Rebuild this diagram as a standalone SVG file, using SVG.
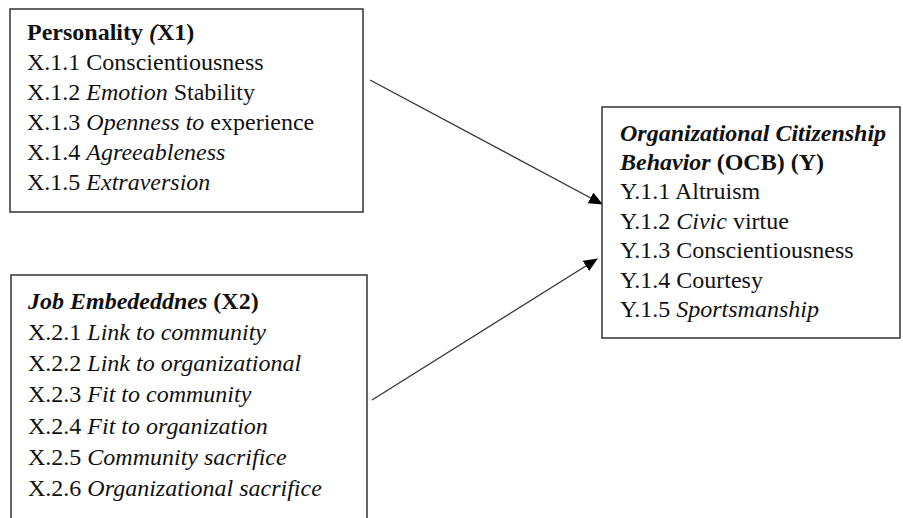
<svg xmlns="http://www.w3.org/2000/svg" width="903" height="518" viewBox="0 0 903 518">
<defs>
<style>
.box{fill:#fff;stroke:#333;stroke-width:1.5}
.t{font-family:"Liberation Serif","Times New Roman",serif;font-size:24px;fill:#111}
.b{font-weight:bold}
.i{font-style:italic}
.conn{stroke:#333;stroke-width:1.3;fill:none}
</style>
<marker id="ah" markerUnits="userSpaceOnUse" markerWidth="14" markerHeight="12" refX="13" refY="6" orient="auto">
<path d="M0,0 L14,6 L0,12 Z" fill="#000"/>
</marker>
</defs>
<rect width="903" height="518" fill="#fff"/>
<g id="connectors">
<line class="conn" x1="370" y1="80" x2="602" y2="204" marker-end="url(#ah)"/>
<line class="conn" x1="372" y1="400" x2="597" y2="259" marker-end="url(#ah)"/>
</g>
<g id="personality">
<rect class="box" x="10" y="9" width="353" height="203"/>
<text class="t" x="27" y="40"><tspan class="b">Personality </tspan><tspan class="b i">(</tspan><tspan class="b">X1)</tspan></text>
<text class="t" x="27" y="70">X.1.1 Conscientiousness</text>
<text class="t" x="27" y="100">X.1.2 <tspan class="i">Emotion</tspan> Stability</text>
<text class="t" x="27" y="130">X.1.3 <tspan class="i">Openness to</tspan> experience</text>
<text class="t" x="27" y="160">X.1.4 <tspan class="i">Agreeableness</tspan></text>
<text class="t" x="27" y="190">X.1.5 <tspan class="i">Extraversion</tspan></text>
</g>
<g id="job-embeddedness">
<rect class="box" x="11" y="275" width="356" height="260"/>
<text class="t" x="28" y="309"><tspan class="b i">Job Embededdnes</tspan><tspan class="b"> (X2)</tspan></text>
<text class="t" x="28" y="340">X.2.1 <tspan class="i">Link to community</tspan></text>
<text class="t" x="28" y="371">X.2.2 <tspan class="i">Link to organizational</tspan></text>
<text class="t" x="28" y="402">X.2.3 <tspan class="i">Fit to community</tspan></text>
<text class="t" x="28" y="434">X.2.4 <tspan class="i">Fit to organization</tspan></text>
<text class="t" x="28" y="465">X.2.5 <tspan class="i">Community sacrifice</tspan></text>
<text class="t" x="28" y="496">X.2.6 <tspan class="i">Organizational sacrifice</tspan></text>
</g>
<g id="ocb">
<rect class="box" x="602" y="107" width="298" height="231"/>
<text class="t b i" x="620" y="141">Organizational Citizenship</text>
<text class="t" x="620" y="170"><tspan class="b i">Behavior</tspan><tspan class="b"> (OCB) (Y)</tspan></text>
<text class="t" x="620" y="199">Y.1.1 Altruism</text>
<text class="t" x="620" y="229">Y.1.2 <tspan class="i">Civic</tspan> virtue</text>
<text class="t" x="620" y="258">Y.1.3 Conscientiousness</text>
<text class="t" x="620" y="288">Y.1.4 Courtesy</text>
<text class="t" x="620" y="317">Y.1.5 <tspan class="i">Sportsmanship</tspan></text>
</g>
</svg>
